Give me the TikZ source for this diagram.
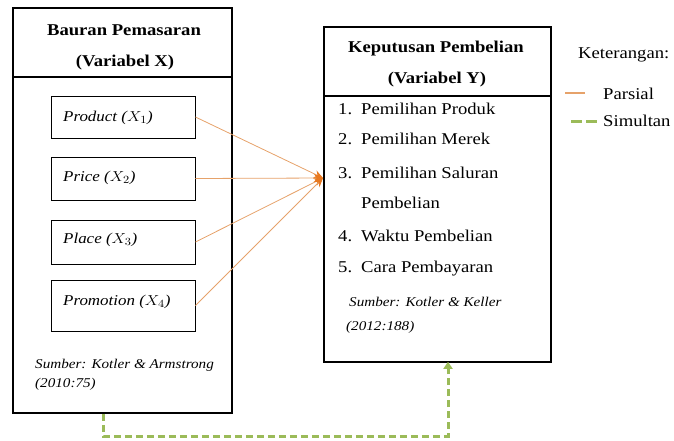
\documentclass[tikz,border=0pt]{standalone}
\usepackage{fontspec}
\usepackage{graphicx}
\setmainfont{Liberation Serif}
\usetikzlibrary{arrows.meta}
\definecolor{orangeline}{HTML}{E6A26A}
\definecolor{orangetip}{HTML}{E8781E}
\definecolor{greenline}{HTML}{9BBB59}
\newcommand\wide[1]{\scalebox{1.13}[1]{#1}}
\begin{document}
\begin{tikzpicture}[x=1pt,y=-1pt,
  outerbox/.style={draw=black,line width=1.6pt,rectangle,inner sep=0pt},
  innerbox/.style={draw=black,line width=0.9pt,rectangle,inner sep=0pt,minimum width=144pt},
  txt/.style={inner sep=0pt,anchor=base west,font=\fontsize{16.5}{16.5}\selectfont},
  ttl/.style={inner sep=0pt,anchor=base,font=\fontsize{16.5}{16.5}\selectfont\bfseries},
  lbl/.style={inner sep=0pt,anchor=base west,font=\fontsize{15}{15}\selectfont\itshape},
  src/.style={inner sep=0pt,anchor=base west,font=\fontsize{13.4}{13.4}\selectfont\itshape},
  partial/.style={draw=orangeline,line width=0.8pt,-{Stealth[length=9pt,width=8pt,color=orangetip]}},
  simul/.style={draw=greenline,line width=3pt,dash pattern=on 7pt off 4pt}
]
\useasboundingbox (0,0) rectangle (674,440);
% left box
\node[outerbox,minimum width=219pt,minimum height=405pt] (X) at (122.5,210.5) {};
\draw[line width=1.6pt] (X.west |- 0,77) -- (X.east |- 0,77);
\node[ttl] (xt1) at (124,35) {\wide{Bauran Pemasaran}};
\node[ttl] (xt2) at (125,66) {\wide{(Variabel X)}};
\node[innerbox,minimum height=42pt] (p1) at (123,117) {};
\node[innerbox,minimum height=43pt] (p2) at (123,178.5) {};
\node[innerbox,minimum height=44pt] (p3) at (123,242) {};
\node[innerbox,minimum height=51pt] (p4) at (123,305.5) {};
\node[lbl] (l1) at (63,121) {\wide{Product ($X_1$)}};
\node[lbl] (l2) at (63,181) {\wide{Price ($X_2$)}};
\node[lbl] (l3) at (63,243) {\wide{Place ($X_3$)}};
\node[lbl] (l4) at (63,305) {\wide{Promotion ($X_4$)}};
\node[src] (s1) at (35,368) {\wide{Sumber: Kotler \& Armstrong}};
\node[src] (s2) at (35,387) {\wide{(2010:75)}};
% right box
\node[outerbox,minimum width=227pt,minimum height=335pt] (Y) at (437.5,194.5) {};
\draw[line width=1.6pt] (Y.west |- 0,96) -- (Y.east |- 0,96);
\node[ttl] (yt1) at (436,52) {\wide{Keputusan Pembelian}};
\node[ttl] (yt2) at (437,83) {\wide{(Variabel Y)}};
\node[txt] (n1) at (338,114) {\wide{1.}};
\node[txt] (i1) at (361,114) {\wide{Pemilihan Produk}};
\node[txt] (n2) at (338,144) {\wide{2.}};
\node[txt] (i2) at (361,144) {\wide{Pemilihan Merek}};
\node[txt] (n3) at (338,178) {\wide{3.}};
\node[txt] (i3) at (361,178) {\wide{Pemilihan Saluran}};
\node[txt] (i3b) at (361,208) {\wide{Pembelian}};
\node[txt] (n4) at (338,241) {\wide{4.}};
\node[txt] (i4) at (361,241) {\wide{Waktu Pembelian}};
\node[txt] (n5) at (338,272) {\wide{5.}};
\node[txt] (i5) at (361,272) {\wide{Cara Pembayaran}};
\node[src] (s3) at (349,306) {\wide{Sumber: Kotler \& Keller}};
\node[src] (s4) at (346,330) {\wide{(2012:188)}};
% connectors
\coordinate (tip) at (323,178);
\draw[partial] (p1.east) -- (tip);
\draw[partial] (p2.east) -- (tip);
\draw[partial] (p3.east) -- (tip);
\draw[partial] (p4.east) -- (tip);
\coordinate (g1) at (103,436);
\coordinate (g2) at (448,436);
\draw[simul,-{Triangle[length=7pt,width=9pt,color=greenline]}] (X.south -| g1) -- (g1) -- (g2) -- ([yshift=1pt]Y.south -| g2);
% legend
\node[txt] (k) at (578,58) {\wide{Keterangan:}};
\coordinate (pa) at (565,93);
\coordinate (pb) at (585,93);
\draw[draw=orangeline,line width=2.2pt] (pa) -- (pb);
\node[txt] (lp) at (603,99) {\wide{Parsial}};
\coordinate (sa) at (571,121);
\coordinate (sb) at (597,121);
\draw[draw=greenline,line width=3pt,dash pattern=on 11pt off 4pt] (sa) -- (sb);
\node[txt] (ls) at (603,126) {\wide{Simultan}};
\end{tikzpicture}
\end{document}
